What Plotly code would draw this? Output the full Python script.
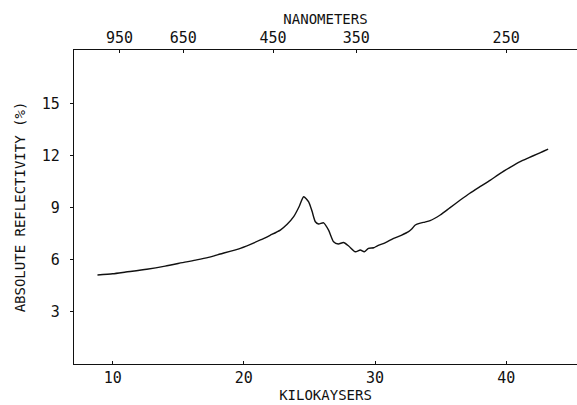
import plotly.graph_objects as go

# Data (kilokaysers vs. absolute reflectivity %)
kilokaysers = [8.84, 10.0, 11.0, 12.6, 14.0, 15.5, 16.4, 17.3, 18.2, 19.73, 21.26, 22.0, 22.78,
               23.3, 23.8, 24.2, 24.56, 24.94, 25.2, 25.45, 25.7, 26.08, 26.46, 26.84, 27.2,
               27.6, 27.99, 28.5, 28.88, 29.18, 29.5, 29.9, 30.15, 30.8, 31.42, 32.0, 32.56,
               32.82, 33.07, 33.45, 33.8, 34.2, 34.97, 35.7, 36.5, 37.2, 38.0, 38.8, 39.55,
               40.3, 41.07, 41.7, 42.35, 42.8, 43.2]
reflectivity = [5.13, 5.2, 5.3, 5.46, 5.64, 5.87, 6.0, 6.15, 6.34, 6.67, 7.15, 7.42, 7.72,
                8.05, 8.49, 9.05, 9.64, 9.35, 8.8, 8.2, 8.07, 8.14, 7.72, 7.05, 6.92,
                7.0, 6.8, 6.47, 6.57, 6.47, 6.67, 6.7, 6.8, 7.0, 7.24, 7.42, 7.63,
                7.8, 8.01, 8.12, 8.18, 8.26, 8.59, 9.0, 9.45, 9.83, 10.22, 10.6, 10.99,
                11.33, 11.66, 11.88, 12.1, 12.25, 12.39]

bottom_ticks = [10, 20, 30, 40]
y_ticks = [3, 6, 9, 12, 15]
nm_labels = [950, 650, 450, 350, 250]
nm_positions = [1e4 / v for v in nm_labels]

x_range = [7.05, 45.4]
y_range = [0, 18.1]

FONT = "DejaVu Sans Mono"
INK = "#111111"

fig = go.Figure()
fig.add_trace(go.Scatter(x=kilokaysers, y=reflectivity, mode="lines",
                         line=dict(color=INK, width=1.4, shape="spline", smoothing=0.6),
                         showlegend=False, hoverinfo="skip"))
# invisible trace to activate top axis
fig.add_trace(go.Scatter(x=[kilokaysers[0]], y=[reflectivity[0]], xaxis="x2",
                         mode="markers", marker=dict(opacity=0), showlegend=False,
                         hoverinfo="skip"))

fig.update_layout(
    width=577, height=405,
    margin=dict(l=74, r=0, t=50, b=41),
    paper_bgcolor="white", plot_bgcolor="white",
    font=dict(family=FONT, size=14, color=INK),
    xaxis=dict(range=x_range, tickvals=bottom_ticks, showgrid=False, zeroline=False,
               showline=True, linecolor=INK, linewidth=1.3, ticks="inside",
               ticklen=3, tickcolor=INK, tickfont=dict(size=15),
               title=dict(text="KILOKAYSERS", standoff=0, font=dict(size=14))),
    xaxis2=dict(range=x_range, overlaying="x", side="top", tickvals=nm_positions,
                ticktext=[str(v) for v in nm_labels], showgrid=False, zeroline=False,
                showline=True, linecolor=INK, linewidth=1.3, ticks="inside",
                ticklen=3, tickcolor=INK, tickfont=dict(size=15),
                title=dict(text="NANOMETERS", standoff=0, font=dict(size=14))),
    yaxis=dict(range=y_range, tickvals=y_ticks, showgrid=False, zeroline=False,
               showline=True, linecolor=INK, linewidth=1.3, ticks="outside",
               ticklen=3, tickcolor=INK, tickfont=dict(size=15), ticklabelstandoff=7,
               title=dict(text="ABSOLUTE REFLECTIVITY (%)", standoff=12, font=dict(size=14))),
)

fig.write_html("out.html")
